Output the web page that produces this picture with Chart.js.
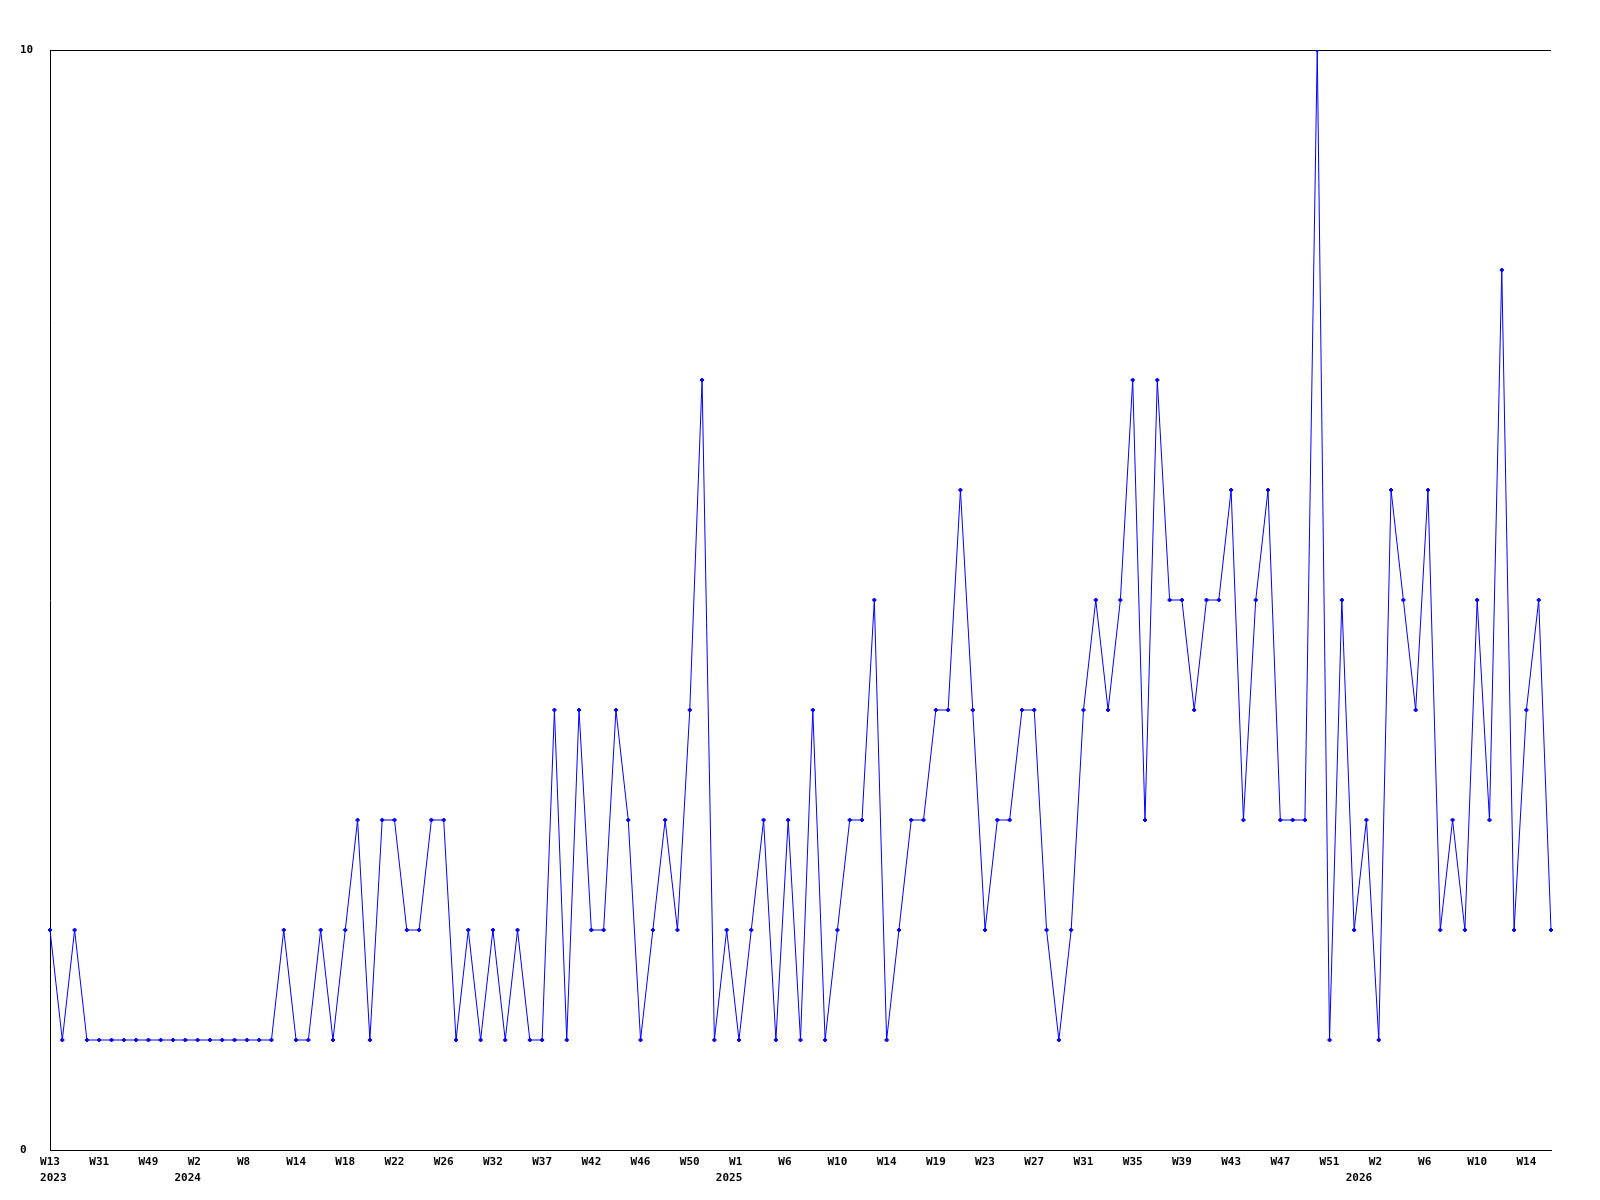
<!DOCTYPE html>
<html>
<head>
<meta charset="utf-8">
<script src="https://cdn.jsdelivr.net/npm/chart.js@4/dist/chart.umd.min.js"></script>
<style>
  html, body { margin: 0; padding: 0; background: #fff; }
  #weeklyChart { display: block; }
</style>
</head>
<body>
<canvas id="weeklyChart" width="1600" height="1200"></canvas>
<script>
// categories: year-week, one per sample (only every 4th is labelled on the axis)
const weeks = [
  '2023-W13', '2023-W17', '2023-W22', '2023-W27', '2023-W31', '2023-W35', '2023-W40', '2023-W44',
  '2023-W49', '2023-W50', '2023-W51', '2023-W52',
  '2024-W2', '2024-W3', '2024-W5', '2024-W6', '2024-W8', '2024-W9', '2024-W11', '2024-W12',
  '2024-W14', '2024-W15', '2024-W16', '2024-W17', '2024-W18', '2024-W19', '2024-W20', '2024-W21',
  '2024-W22', '2024-W23', '2024-W24', '2024-W25', '2024-W26', '2024-W27', '2024-W29', '2024-W30',
  '2024-W32', '2024-W33', '2024-W34', '2024-W36', '2024-W37', '2024-W38', '2024-W39', '2024-W41',
  '2024-W42', '2024-W43', '2024-W44', '2024-W45', '2024-W46', '2024-W47', '2024-W48', '2024-W49',
  '2024-W50', '2024-W51', '2024-W52', '2024-W53',
  '2025-W1', '2025-W2', '2025-W4', '2025-W5', '2025-W6', '2025-W7', '2025-W8', '2025-W9',
  '2025-W10', '2025-W11', '2025-W12', '2025-W13', '2025-W14', '2025-W16', '2025-W17', '2025-W18',
  '2025-W19', '2025-W20', '2025-W21', '2025-W22', '2025-W23', '2025-W24', '2025-W25', '2025-W26',
  '2025-W27', '2025-W28', '2025-W29', '2025-W30', '2025-W31', '2025-W32', '2025-W33', '2025-W34',
  '2025-W35', '2025-W36', '2025-W37', '2025-W38', '2025-W39', '2025-W40', '2025-W41', '2025-W42',
  '2025-W43', '2025-W44', '2025-W45', '2025-W46', '2025-W47', '2025-W48', '2025-W49', '2025-W50',
  '2025-W51', '2025-W52', '2025-W53',
  '2026-W1', '2026-W2', '2026-W3', '2026-W4', '2026-W5', '2026-W6', '2026-W7', '2026-W8',
  '2026-W9', '2026-W10', '2026-W11', '2026-W12', '2026-W13', '2026-W14', '2026-W15', '2026-W16'
];

const counts = [
  2, 1, 2, 1, 1, 1, 1, 1, 1, 1, 1, 1, 1, 1, 1, 1, 1, 1, 1, 2,
  1, 1, 2, 1, 2, 3, 1, 3, 3, 2, 2, 3, 3, 1, 2, 1, 2, 1, 2, 1,
  1, 4, 1, 4, 2, 2, 4, 3, 1, 2, 3, 2, 4, 7, 1, 2, 1, 2, 3, 1,
  3, 1, 4, 1, 2, 3, 3, 5, 1, 2, 3, 3, 4, 4, 6, 4, 2, 3, 3, 4,
  4, 2, 1, 2, 4, 5, 4, 5, 7, 3, 7, 5, 5, 4, 5, 5, 6, 3, 5, 6,
  3, 3, 3, 10, 1, 5, 2, 3, 1, 6, 5, 4, 6, 2, 3, 2, 5, 3, 8, 2,
  4, 5, 2
];

const yTicks = [0, 10];
const labelEvery = 4;

const monoFont = { family: '"DejaVu Sans Mono", "Liberation Mono", monospace', size: 11, weight: 'bold', lineHeight: 1.45 };

// the year line sits a little off the tick in the original; nudge it with spaces (monospace)
const yearNudge = { '2023': ' 2023', '2024': '2024   ', '2025': '2025   ', '2026': '2026      ' };

function tickLabel(index) {
  if (index % labelEvery !== 0) return '';
  const [year, week] = weeks[index].split('-');
  const prevYear = index >= labelEvery ? weeks[index - labelEvery].split('-')[0] : null;
  const wk = week.padEnd(3, ' ');
  return year !== prevYear ? [wk, yearNudge[year] || year] : wk;
}

const ctx = document.getElementById('weeklyChart').getContext('2d');

new Chart(ctx, {
  type: 'line',
  data: {
    labels: weeks,
    datasets: [
      {
        data: counts,
        borderColor: '#0000ff',
        backgroundColor: '#0000ff',
        borderWidth: 1,
        pointStyle: 'rectRot',
        pointRadius: 2,
        pointBorderWidth: 1,
        pointBackgroundColor: '#0000ff',
        pointBorderColor: '#0000ff',
        tension: 0,
        fill: false,
      },
    ],
  },
  options: {
    responsive: false,
    animation: false,
    devicePixelRatio: 1,
    layout: {
      padding: { left: 20, right: 49, top: 50, bottom: 0 },
    },
    plugins: {
      legend: { display: false },
      tooltip: { enabled: false },
    },
    scales: {
      x: {
        offset: false,
        grid: { display: false, drawTicks: false },
        border: { display: true, color: '#000', width: 1 },
        ticks: {
          autoSkip: false,
          maxRotation: 0,
          minRotation: 0,
          padding: 4,
          color: '#000',
          font: monoFont,
          callback: (value, index) => tickLabel(index),
        },
        afterFit: (scale) => { scale.height = 50; },
      },
      y: {
        min: yTicks[0],
        max: yTicks[yTicks.length - 1],
        grid: { color: '#000', drawTicks: false },
        border: { display: true, color: '#000', width: 1 },
        afterBuildTicks: (scale) => { scale.ticks = yTicks.map((v) => ({ value: v })); },
        ticks: {
          crossAlign: 'far',
          color: '#000',
          font: monoFont,
        },
        afterFit: (scale) => { scale.width = 30; },
      },
    },
  },
});
</script>
</body>
</html>
